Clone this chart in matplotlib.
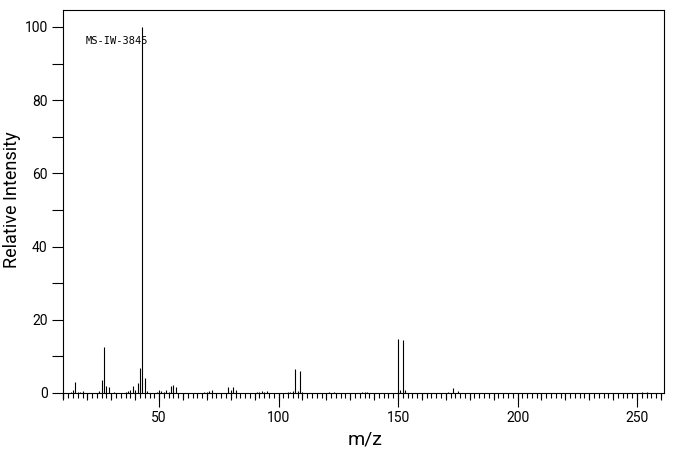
import matplotlib
matplotlib.use("Agg")
import matplotlib.pyplot as plt
from matplotlib.ticker import MultipleLocator

mz = [13, 14, 15, 16, 17, 18, 25, 26, 27, 28, 29, 31, 36, 37, 38, 39, 40, 41, 42, 43,
      44, 45, 49, 50, 51, 52, 53, 54, 55, 56, 57, 69, 70, 71, 72, 79, 80, 81, 82,
      91, 92, 93, 94, 95, 104, 105, 106, 107, 108, 109, 110, 121, 123, 135, 136, 137,
      150, 151, 152, 153, 171, 173, 175, 252, 254]
intensity = [0.35, 0.9, 2.9, 0.4, 0.4, 0.5, 0.5, 3.5, 12.7, 2.0, 1.7, 0.4, 0.3, 0.6, 0.8, 2.0, 0.7, 2.8, 6.9, 100,
             4.2, 0.6, 0.3, 0.9, 0.5, 0.4, 0.9, 0.4, 2.0, 2.3, 1.5, 0.3, 0.4, 0.5, 0.9, 1.5, 0.9, 1.5, 0.8,
             0.35, 0.35, 0.6, 0.35, 0.6, 0.35, 0.4, 0.6, 6.6, 0.6, 6.1, 0.35, 0.25, 0.3, 0.3, 0.3, 0.3,
             14.8, 0.9, 14.5, 0.9, 0.4, 1.4, 0.55, 0.2, 0.2]
label_text = "MS-IW-3845"
x_label = "m/z"
y_label = "Relative Intensity"

W, H = 676, 455
fig = plt.figure(figsize=(W / 100, H / 100), dpi=100)
ax = fig.add_axes([63 / W, 1 - 398 / H, (664 - 63) / W, (398 - 10) / H])

ymin, ymax = -1.37, 104.64
ax.vlines(mz, 0, intensity, colors="black", linewidth=0.8)
ax.set_xlim(9.8, 261.3)
ax.set_ylim(ymin, ymax)

for s in ax.spines.values():
    s.set_linewidth(0.8)
ax.spines["bottom"].set_position(("data", 0))
ax.spines["right"].set_bounds(0, ymax)

font = "Roboto"
ax.xaxis.set_major_locator(MultipleLocator(50))
ax.xaxis.set_minor_locator(MultipleLocator(2))
ax.yaxis.set_major_locator(MultipleLocator(20))
ax.yaxis.set_minor_locator(MultipleLocator(10))
ax.tick_params(axis="x", which="major", direction="out", length=10, width=0.8, pad=3,
               labelsize=10, labelcolor="black")
ax.tick_params(axis="x", which="minor", direction="out", length=3.6, width=0.8)
ax.tick_params(axis="y", which="both", direction="out", length=8, width=0.8, pad=3,
               labelsize=10, labelcolor="black")
for lab in ax.get_xticklabels() + ax.get_yticklabels():
    lab.set_fontfamily(font)

# medium ticks every 10
frac0 = (0 - ymin) / (ymax - ymin)
sec = ax.secondary_xaxis(frac0)
sec.xaxis.set_major_locator(MultipleLocator(10))
sec.tick_params(axis="x", direction="out", length=5.2, width=0.8, labelbottom=False)
sec.spines["bottom"].set_visible(False)

ax.set_xlabel(x_label, fontsize=14, family=font, color="black")
ax.set_ylabel(y_label, fontsize=13, family=font, color="black")
ax.xaxis.set_label_coords((365 - 63) / 601, (398 - 440) / 388)
ax.xaxis.label.set_va("center")
ax.yaxis.set_label_coords((12 - 63) / 601, (398 - 200) / 388)
ax.yaxis.label.set_va("center")

ax.text(19.4, 96.2, label_text, ha="left", va="center", fontsize=7.5, family="DejaVu Sans Mono")

fig.savefig("out.png", dpi=100)
